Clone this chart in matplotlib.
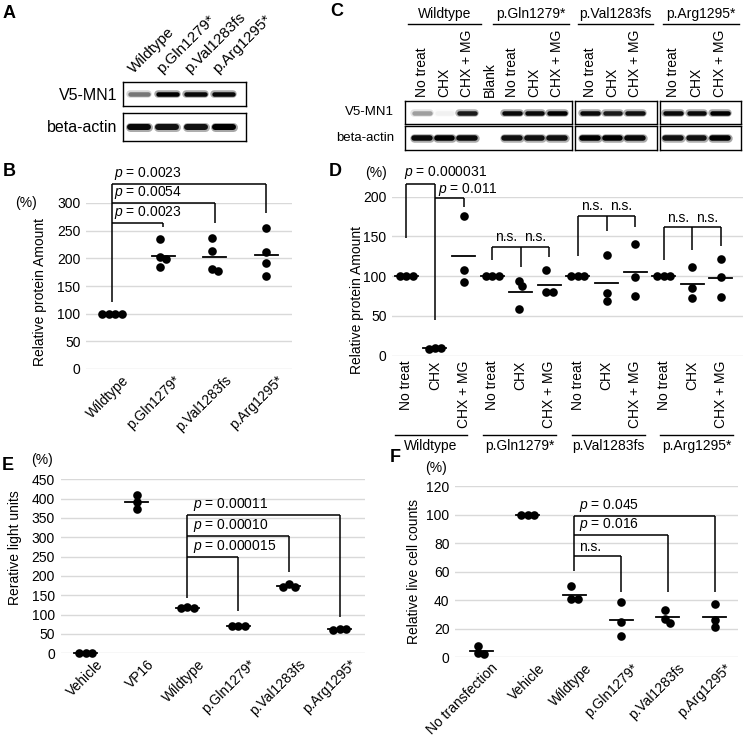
import numpy as np
import matplotlib
matplotlib.use("Agg")
import matplotlib.pyplot as plt
from matplotlib.transforms import ScaledTranslation

plt.rcParams['font.family'] = ['Liberation Sans', 'DejaVu Sans']
plt.rcParams['mathtext.fontset'] = 'custom'
plt.rcParams['mathtext.it'] = 'Liberation Sans:italic'
plt.rcParams['mathtext.rm'] = 'Liberation Sans'

W, H = 744, 738

# ---- blot band intensities (0 = no band, 1 = full) ----
blot_a_lanes = ["Wildtype", "p.Gln1279*", "p.Val1283fs", "p.Arg1295*"]
blot_a_v5 = [0.45, 1.0, 0.95, 0.95]
blot_a_actin = [0.95, 0.9, 0.9, 1.0]

blot_c_groups = ["Wildtype", "p.Gln1279*", "p.Val1283fs", "p.Arg1295*"]
blot_c_lanes = [["No treat", "CHX", "CHX + MG", "Blank", "No treat", "CHX", "CHX + MG"],
                ["No treat", "CHX", "CHX + MG"],
                ["No treat", "CHX", "CHX + MG"]]
blot_c_v5 = [[0.3, 0.04, 0.85, 0, 0.95, 0.95, 1.0], [0.95, 0.85, 0.9], [0.95, 0.95, 1.0]]
blot_c_actin = [[0.95, 1.0, 0.95, 0, 0.9, 0.9, 0.9], [1.0, 1.0, 0.95], [0.9, 0.9, 1.0]]

# ---- B: relative protein amount (%) ----
b_groups = ["Wildtype", "p.Gln1279*", "p.Val1283fs", "p.Arg1295*"]
b_values = [[100, 100, 100, 100], [235, 198, 203, 184], [236, 214, 181, 177], [255, 212, 192, 168]]

# ---- D: relative protein amount after treatment (%) ----
d_variants = ["Wildtype", "p.Gln1279*", "p.Val1283fs", "p.Arg1295*"]
d_treat = ["No treat", "CHX", "CHX + MG"]
d_values = [[100, 100, 100], [9, 8, 10], [176, 108, 92],
            [100, 100, 100], [94, 87, 58], [108, 80, 80],
            [100, 100, 100], [126, 79, 69], [140, 99, 75],
            [100, 100, 100], [112, 85, 72], [121, 99, 74]]

# ---- E: relative light units (%) ----
e_groups = ["Vehicle", "VP16", "Wildtype", "p.Gln1279*", "p.Val1283fs", "p.Arg1295*"]
e_values = [[2, 1, 2], [409, 373, 392], [120, 117, 116], [71, 70, 70], [172, 180, 172], [63, 62, 61]]

# ---- F: relative live cell counts (%) ----
f_groups = ["No transfection", "Vehicle", "Wildtype", "p.Gln1279*", "p.Val1283fs", "p.Arg1295*"]
f_values = [[8, 2.8, 2], [100, 100, 100], [50, 41, 40.6], [39, 25, 15], [33, 27, 24], [37, 26, 21]]

fig = plt.figure(figsize=(W / 100, H / 100), dpi=100)
canvas = fig.add_axes([0, 0, 1, 1])
canvas.set_xlim(0, W)
canvas.set_ylim(H, 0)
canvas.axis('off')


def px_axes(l, t, r, b):
    return fig.add_axes([l / W, 1 - b / H, (r - l) / W, (b - t) / H])


def off(dx, dy):
    return ScaledTranslation(dx / 100, dy / 100, fig.dpi_scale_trans)


def blot(l, t, r, b, intens, xlim, half_px, thick_px):
    ax = px_axes(l, t, r, b)
    ax.set_xlim(*xlim)
    ax.set_ylim(-1, 1)
    ax.set_xticks([])
    ax.set_yticks([])
    for s in ax.spines.values():
        s.set_linewidth(1.0)
    lane_px = (r - l) / (xlim[1] - xlim[0])
    hw = (half_px - thick_px / 2) / lane_px
    for i, v in enumerate(intens):
        if v <= 0:
            continue
        ax.plot([i - hw, i + hw], [0, 0], color='black', alpha=0.35 * v,
                lw=(thick_px + 3) * 0.72, solid_capstyle='round')
        ax.plot([i - hw, i + hw], [0, 0], color='black', alpha=v,
                lw=thick_px * 0.72, solid_capstyle='round')
    return ax


def swarm(vals, ypx, dpx=6.5):
    vals = np.asarray(vals, float)
    order = np.argsort(-vals, kind='stable')
    placed = []
    offs = np.zeros(len(vals))
    for k in order:
        y = vals[k] * ypx
        cands = [0.0]
        for (qx, qy) in placed:
            dy = abs(y - qy)
            if dy < dpx:
                dx = np.sqrt(dpx ** 2 - dy ** 2)
                cands += [qx + dx, qx - dx]
        ok = [c for c in cands
              if all((c - qx) ** 2 + (y - qy) ** 2 >= dpx ** 2 - 1e-6 for qx, qy in placed)]
        best = min(ok, key=lambda c: (abs(c), -c))
        offs[k] = best
        placed.append((best, y))
    offs -= (offs.max() + offs.min()) / 2
    return offs


def dot_panel(box, values, ymax, ystep, xlim):
    l, t, r, b = box
    ax = px_axes(l, t, r, b)
    ax.set_xlim(*xlim)
    ax.set_ylim(0, ymax)
    for s in ax.spines.values():
        s.set_visible(False)
    ax.set_yticks(np.arange(0, ymax + 1, ystep))
    ax.set_xticks([])
    ax.tick_params(axis='y', length=0, pad=4, labelsize=10)
    ax.grid(axis='y', color='#d9d9d9', lw=1.0)
    ax.set_axisbelow(True)
    xpx = (r - l) / (xlim[1] - xlim[0])
    ypx = (b - t) / ymax
    for i, vals in enumerate(values):
        xs = i + swarm(vals, ypx) / xpx
        ax.plot(xs, vals, 'o', color='black', ms=6.2, mew=0, clip_on=False, zorder=3)
        m = np.mean(vals)
        hl = 11.5 / xpx
        ax.plot([i - hl, i + hl], [m, m], color='black', lw=1.3, zorder=2, clip_on=False)
    return ax


def rot_labels(ax, labels, dx=10, dy=-4):
    for i, s in enumerate(labels):
        ax.text(i, 0, s, transform=ax.get_xaxis_transform() + off(dx, dy), rotation=45,
                ha='right', va='top', rotation_mode='anchor', fontsize=10)


def vline(ax, x, y0, y1):
    ax.plot([x, x], [y0, y1], color='black', lw=1.1, clip_on=False, solid_capstyle='butt')


def hline(ax, x0, x1, y):
    ax.plot([x0, x1], [y, y], color='black', lw=1.1, clip_on=False, solid_capstyle='butt')


def ptext(ax, x, y, s, ha='left', dy=2):
    ax.text(x, y, s, transform=ax.transData + off(0, dy), ha=ha, va='bottom', fontsize=10)


# ================= A =================
canvas.text(9, 13, "A", fontsize=13, fontweight='bold', ha='center', va='center')
xa = (-0.57, 3.79)
blot(123, 82, 246, 106, blot_a_v5, xa, 11.5, 4.5)
blot(123, 113, 246, 141, blot_a_actin, xa, 12, 6)
canvas.text(117, 95, "V5-MN1", fontsize=11.5, ha='right', va='center')
canvas.text(117, 128, "beta-actin", fontsize=11.5, ha='right', va='center')
for i, s in enumerate(blot_a_lanes):
    canvas.text(136 + 28 * i, 76, s, fontsize=11, rotation=45, ha='left', va='bottom',
                rotation_mode='anchor')

# ================= C =================
canvas.text(337, 11, "C", fontsize=13, fontweight='bold', ha='center', va='center')
c_boxes = [(405, 572, 422, 22.5), (575, 657, 590, 22.5), (660, 741, 673, 23.5)]
for k, (l, r, first, sp) in enumerate(c_boxes):
    xl = ((l - first) / sp, (r - first) / sp)
    blot(l, 101, r, 124, blot_c_v5[k], xl, 10, 4.5)
    blot(l, 126, r, 150, blot_c_actin[k], xl, 10.5, 5.5)
    for i, s in enumerate(blot_c_lanes[k]):
        canvas.text(first + sp * i, 97, s, fontsize=10, rotation=90, ha='left', va='center',
                    rotation_mode='anchor')
canvas.text(394, 112, "V5-MN1", fontsize=9.5, ha='right', va='center')
canvas.text(394, 138, "beta-actin", fontsize=9.5, ha='right', va='center')
c_spans = [(408, 481), (493, 569), (578, 653), (663, 739)]
for (x0, x1), s in zip(c_spans, blot_c_groups):
    canvas.plot([x0, x1], [24, 24], color='black', lw=1.0)
    canvas.text((x0 + x1) / 2, 21, s, fontsize=10, ha='center', va='bottom')

# ================= B =================
canvas.text(9, 172, "B", fontsize=13, fontweight='bold', ha='center', va='center')
axB = dot_panel((86, 203, 292, 369), b_values, 300, 50, (-0.5, 3.5))
rot_labels(axB, b_groups)
canvas.text(26, 203, "(%)", fontsize=10, ha='center', va='center')
canvas.text(40, 292, "Relative protein Amount", fontsize=10, rotation=90, ha='center', va='center')
vline(axB, 0, 121, 335)
for j, top, drop, lab in [(3, 335, 282, "$p$ = 0.0023"), (2, 300, 264, "$p$ = 0.0054"),
                          (1, 263, 257, "$p$ = 0.0023")]:
    hline(axB, 0, j, top)
    vline(axB, j, drop, top)
    ptext(axB, 0.05, top, lab)

# ================= D =================
canvas.text(335, 172, "D", fontsize=13, fontweight='bold', ha='center', va='center')
axD = dot_panel((392, 196.7, 743, 355.5), d_values, 200, 50, (-0.5, 11.77))
canvas.text(376, 173, "(%)", fontsize=10, ha='center', va='center')
canvas.text(357, 300, "Relative protein Amount", fontsize=10, rotation=90, ha='center', va='center')
for i in range(len(d_values)):
    axD.text(i, 0, d_treat[i % 3], transform=axD.get_xaxis_transform() + off(0, -5),
             rotation=90, ha='right', va='center', rotation_mode='anchor', fontsize=10)
d_spans = [(395, 467), (483, 556), (572, 645), (660, 733)]
for (x0, x1), s in zip(d_spans, d_variants):
    canvas.plot([x0, x1], [435, 435], color='black', lw=1.0)
    canvas.text((x0 + x1) / 2, 446, s, fontsize=10, ha='center', va='center')
# wildtype comparisons
vline(axD, 0, 148, 215.6)
hline(axD, 0, 1, 215.6)
vline(axD, 1, 44.7, 215.6)
hline(axD, 1, 2, 198)
vline(axD, 2, 187.5, 198)
ptext(axD, -0.07, 215.6, "$p$ = 0.000031", dy=3)
ptext(axD, 1.1, 198, "$p$ = 0.011", dy=0)
for g, top, drops in [(1, 136.3, (120, 112, 124.4)), (2, 175.7, (125.7, 157, 162)),
                      (3, 161.4, (120, 133, 138))]:
    base = 3 * g
    hline(axD, base, base + 2, top)
    for k in range(3):
        vline(axD, base + k, drops[k], top)
    ptext(axD, base + 0.5, top + 1, "n.s.", ha='center')
    ptext(axD, base + 1.5, top + 1, "n.s.", ha='center')

# ================= E =================
canvas.text(8, 466, "E", fontsize=13, fontweight='bold', ha='center', va='center')
axE = dot_panel((60.6, 479.3, 365, 653.3), e_values, 450, 50, (-0.5, 5.5))
rot_labels(axE, e_groups)
canvas.text(42, 460, "(%)", fontsize=10, ha='center', va='center')
canvas.text(15, 548, "Rerative light units", fontsize=10, rotation=90, ha='center', va='center')
vline(axE, 2, 142, 357)
for j, top, drop, lab in [(5, 357, 94.7, "$p$ = 0.00011"), (4, 304, 209, "$p$ = 0.00010"),
                          (3, 250, 110, "$p$ = 0.000015")]:
    hline(axE, 2, j, top)
    vline(axE, j, drop, top)
    ptext(axE, 2.1, top, lab)

# ================= F =================
canvas.text(395, 457, "F", fontsize=13, fontweight='bold', ha='center', va='center')
axF = dot_panel((455, 486, 738, 657.3), f_values, 120, 20, (-0.557, 5.5))
rot_labels(axF, f_groups)
canvas.text(436, 468, "(%)", fontsize=10, ha='center', va='center')
canvas.text(414, 572, "Relative live cell counts", fontsize=10, rotation=90, ha='center', va='center')
vline(axF, 2, 60.4, 99)
for j, top, drop, lab in [(5, 99, 46, "$p$ = 0.045"), (4, 85.7, 46, "$p$ = 0.016"),
                          (3, 71, 46, "n.s.")]:
    hline(axF, 2, j, top)
    vline(axF, j, drop, top)
    ptext(axF, 2.1, top, lab)

fig.savefig("out.png", dpi=100)
